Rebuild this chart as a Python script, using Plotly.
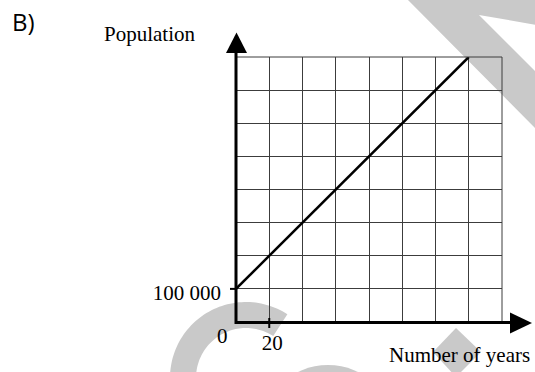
import numpy as np
import plotly.graph_objects as go

# ---------------- data ----------------
years = [0, 140]
population = [100000, 800000]

x_grid_vals = [0, 20, 40, 60, 80, 100, 120, 140, 160]
x_tick_text = ["", "20", "", "", "", "", "", "", ""]
y_grid_vals = [0, 100000, 200000, 300000, 400000, 500000, 600000, 700000, 800000]
y_tick_text = ["", "100 000", "", "", "", "", "", "", ""]
x_label = "Number of years"
y_label = "Population"
origin_label = "0"
panel_label = "B)"

# ---------------- layout geometry (pixels) ----------------
W, H = 535, 372
L, R, T, B = 236, 502, 57, 322


def px(x):
    return (x - L) / (R - L)


def py(y):
    return (B - y) / (B - T)


def poly(points):
    return "M " + " L ".join(f"{px(a):.5f},{py(b):.5f}" for a, b in points) + " Z"


SERIF = "Liberation Serif"
GRAY = "#c9c9c9"
GRID = "#3c3c3c"

fig = go.Figure()
fig.add_trace(go.Scatter(
    x=years, y=population, mode="lines",
    line=dict(color="black", width=2.5),
    hoverinfo="skip", showlegend=False, cliponaxis=False,
))

shapes = []

# ---- watermark (light gray, behind everything) ----
shapes.append(dict(type="path", xref="paper", yref="paper", layer="below",
                   path=poly([(406, -2), (537, -2), (537, 25), (479, 15), (537, 73), (537, 130)]),
                   fillcolor=GRAY, line=dict(width=0)))
cx, cy, Ro, Ri = 246, 378, 76, 50
angs = np.radians(np.linspace(-115, 33, 70))
outer = [(cx + Ro * np.sin(a), cy - Ro * np.cos(a)) for a in angs]
inner = [(cx + Ri * np.sin(a), cy - Ri * np.cos(a)) for a in angs[::-1]]
shapes.append(dict(type="path", xref="paper", yref="paper", layer="below",
                   path=poly(outer + inner), fillcolor=GRAY, line=dict(width=0)))
shapes.append(dict(type="circle", xref="paper", yref="paper", layer="below",
                   x0=px(260), x1=px(396), y0=py(501), y1=py(365),
                   fillcolor=GRAY, line=dict(width=0)))
shapes.append(dict(type="path", xref="paper", yref="paper", layer="below",
                   path=poly([(456, 328), (481, 352), (456, 377), (433, 352)]),
                   fillcolor=GRAY, line=dict(width=0)))

# ---- grid border ----
shapes.append(dict(type="rect", xref="paper", yref="paper", x0=0, x1=1, y0=0, y1=1,
                   line=dict(color=GRID, width=1), layer="above"))

# ---- axes with arrows ----
shapes.append(dict(type="line", xref="paper", yref="paper",
                   x0=px(236), x1=px(236), y0=py(324), y1=py(52),
                   line=dict(color="black", width=3)))
shapes.append(dict(type="line", xref="paper", yref="paper",
                   x0=px(235), x1=px(511), y0=py(322.5), y1=py(322.5),
                   line=dict(color="black", width=3)))
shapes.append(dict(type="path", xref="paper", yref="paper",
                   path=poly([(226, 53), (236.5, 32.5), (247, 53)]),
                   fillcolor="black", line=dict(width=0)))
shapes.append(dict(type="path", xref="paper", yref="paper",
                   path=poly([(510, 312.5), (532, 323), (510, 333.5)]),
                   fillcolor="black", line=dict(width=0)))

# ---- tick marks ----
shapes.append(dict(type="line", xref="x", yref="paper",
                   x0=x_grid_vals[1], x1=x_grid_vals[1], y0=py(328), y1=py(318),
                   line=dict(color="black", width=2)))
shapes.append(dict(type="line", xref="paper", yref="y",
                   x0=px(230), x1=px(236), y0=y_grid_vals[1], y1=y_grid_vals[1],
                   line=dict(color="black", width=2)))

annotations = [
    dict(text=y_label, xref="paper", yref="paper", x=px(150), y=py(34),
         xanchor="center", yanchor="middle", showarrow=False,
         font=dict(family=SERIF, size=21, color="black")),
    dict(text=x_label, xref="paper", yref="paper", x=px(459), y=py(355),
         xanchor="center", yanchor="middle", showarrow=False,
         font=dict(family=SERIF, size=21, color="black")),
    dict(text=origin_label, xref="paper", yref="paper", x=px(222), y=py(336),
         xanchor="center", yanchor="middle", showarrow=False,
         font=dict(family=SERIF, size=21, color="black")),
    dict(text=panel_label, xref="paper", yref="paper", x=px(23), y=py(21),
         xanchor="center", yanchor="middle", showarrow=False,
         font=dict(family="Open Sans", size=24, color="black")),
]

fig.update_layout(
    width=W, height=H,
    margin=dict(l=L, r=W - R, t=T, b=H - B, pad=0),
    paper_bgcolor="white", plot_bgcolor="rgba(0,0,0,0)",
    showlegend=False,
    shapes=shapes, annotations=annotations,
    xaxis=dict(range=[x_grid_vals[0], x_grid_vals[-1]], tickmode="array",
               tickvals=x_grid_vals, ticktext=x_tick_text, ticks="",
               showgrid=True, gridcolor=GRID, gridwidth=1, zeroline=False,
               showline=False, fixedrange=True, ticklabelstandoff=6,
               ticklabelshift=3,
               tickfont=dict(family=SERIF, size=21, color="black")),
    yaxis=dict(range=[y_grid_vals[0], y_grid_vals[-1]], tickmode="array",
               tickvals=y_grid_vals, ticktext=y_tick_text, ticks="",
               showgrid=True, gridcolor=GRID, gridwidth=1, zeroline=False,
               showline=False, fixedrange=True, ticklabelstandoff=14,
               ticklabelshift=4,
               tickfont=dict(family=SERIF, size=21, color="black")),
)

fig.write_html(
    "out.html",
    config={"displayModeBar": False},
    post_script="document.body.style.margin='0';document.body.style.overflow='hidden';",
)
